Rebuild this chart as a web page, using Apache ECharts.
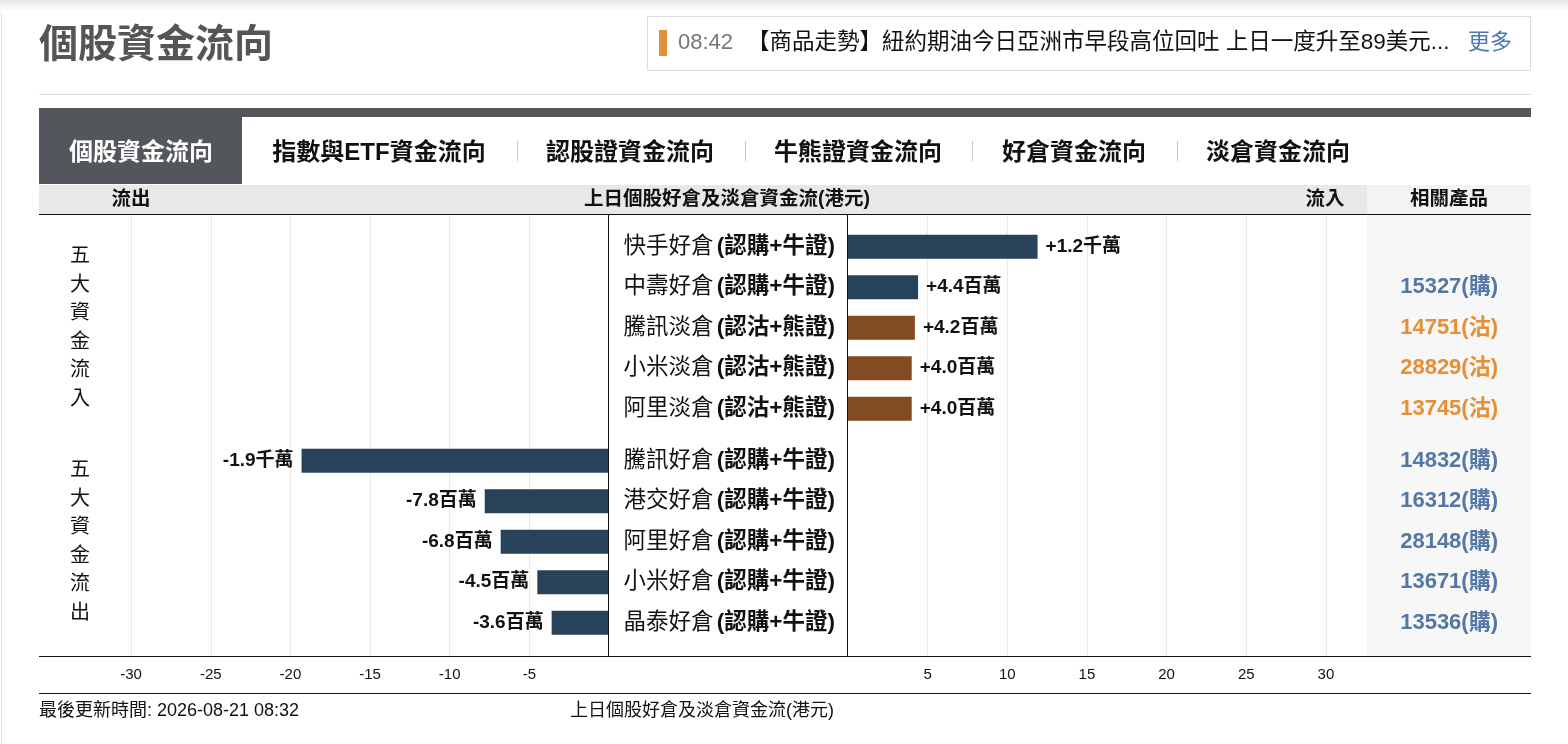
<!DOCTYPE html>
<html>
<head>
<meta charset="utf-8">
<script src="https://cdn.jsdelivr.net/npm/echarts@6/dist/echarts.min.js"></script>
<style>
html,body{margin:0;padding:0;background:#fff;}
#c{width:1568px;height:744px;}
</style>
</head>
<body>
<div id="c"></div>
<script>
// ---- data ----
var inflowNames = ['快手好倉 (認購+牛證)', '中壽好倉 (認購+牛證)', '騰訊淡倉 (認沽+熊證)', '小米淡倉 (認沽+熊證)', '阿里淡倉 (認沽+熊證)'];
var inflowValues = [11.9, 4.4, 4.2, 4.0, 4.0];           // 百萬港元
var inflowCodes = ['', '15327(購)', '14751(沽)', '28829(沽)', '13745(沽)'];
var outflowNames = ['騰訊好倉 (認購+牛證)', '港交好倉 (認購+牛證)', '阿里好倉 (認購+牛證)', '小米好倉 (認購+牛證)', '晶泰好倉 (認購+牛證)'];
var outflowValues = [-19.3, -7.8, -6.8, -4.5, -3.6];     // 百萬港元
var outflowCodes = ['14832(購)', '16312(購)', '28148(購)', '13671(購)', '13536(購)'];
var tabs = ['個股資金流向', '指數與ETF資金流向', '認股證資金流向', '牛熊證資金流向', '好倉資金流向', '淡倉資金流向'];
var newsTime = '08:42';
var newsText = '【商品走勢】紐約期油今日亞洲市早段高位回吐 上日一度升至89美元...';
var updateText = '最後更新時間: 2026-08-21 08:32';
var axisTitle = '上日個股好倉及淡倉資金流(港元)';

var FONT = "'Liberation Sans', Arial, 'Noto Sans CJK TC', sans-serif";
var NAVY = '#284259', BROWN = '#834b22', CODE_BLUE = '#5577a3', CODE_ORANGE = '#e58f36';

function fmtFlow(v) {
  var s = v >= 0 ? '+' : '-';
  var a = Math.abs(v);
  return a >= 10 ? s + (a / 10).toFixed(1) + '千萬' : s + a.toFixed(1) + '百萬';
}
function barColor(names) {
  return function (p) { return names[p.dataIndex].indexOf('淡倉') >= 0 ? BROWN : NAVY; };
}
var nameLabel = {
  formatter: function (v) {
    var i = v.indexOf(' (');
    return '{n|' + v.slice(0, i) + '} {b|' + v.slice(i + 1) + '}';
  },
  rich: {
    n: { fontSize: 22.5, color: '#111', fontFamily: FONT },
    b: { fontSize: 22.5, color: '#111', fontWeight: 'bold', fontFamily: FONT }
  }
};
var codeLabel = {
  formatter: function (v) {
    if (!v) return '';
    return v.indexOf('沽') >= 0 ? '{s|' + v + '}' : '{p|' + v + '}';
  },
  rich: {
    p: { fontSize: 22, color: CODE_BLUE, fontWeight: 'bold', fontFamily: FONT },
    s: { fontSize: 22, color: CODE_ORANGE, fontWeight: 'bold', fontFamily: FONT }
  }
};

// ---- layout (pixels) ----
var U = 15.93;               // px per 百萬
var ZL = 609, ZR = 848;      // zero lines
var LMIN = -35, RMAX = 32.6;
var PLOT_TOP = 215, PLOT_H = 441;
var TOP_G = 226.5, BOT_G = 440.5, G_H = 202.5;

var chart = echarts.init(document.getElementById('c'));

var hidden = { show: false };
function bgXAxis(gi, min, max) {
  return {
    gridIndex: gi, type: 'value', min: min, max: max, interval: 5,
    axisLine: hidden, axisTick: hidden,
    axisLabel: {
      show: true, margin: 11, fontSize: 15, color: '#111', fontFamily: FONT,
      showMinLabel: false, showMaxLabel: false,
      formatter: function (v) { return (v === 0 || v % 5 !== 0) ? '' : String(v); }
    },
    splitLine: { show: true, showMinLine: false, showMaxLine: false, lineStyle: { color: '#e9e9e9', width: 1 } }
  };
}

var tabCenters = [141, 379, 630, 858, 1074, 1278];
var sepX = [517, 745, 972, 1177];

var graphics = [];
// top shadow and left border
graphics.push({ type: 'rect', shape: { x: 0, y: 0, width: 1568, height: 12 }, style: { fill: new echarts.graphic.LinearGradient(0, 0, 0, 1, [{ offset: 0, color: '#e6e6e6' }, { offset: 1, color: '#ffffff' }]) }, z: 0 });
graphics.push({ type: 'line', shape: { x1: 1.5, y1: 12, x2: 1.5, y2: 744 }, style: { stroke: '#e3e3e3', lineWidth: 1 } });
// title
graphics.push({ type: 'text', x: 39, y: 46, style: { text: '個股資金流向', font: 'bold 39px ' + FONT, fill: '#555', verticalAlign: 'middle' } });
// news box
graphics.push({ type: 'rect', shape: { x: 647.5, y: 16.5, width: 883, height: 54 }, style: { fill: '#fff', stroke: '#dcdcdc', lineWidth: 1 } });
graphics.push({ type: 'rect', shape: { x: 659, y: 30, width: 8, height: 26 }, style: { fill: '#e0913a' } });
graphics.push({ type: 'text', x: 678, y: 43, style: { text: newsTime, font: '22px ' + FONT, fill: '#777', verticalAlign: 'middle' } });
graphics.push({ type: 'text', x: 747, y: 43, style: { text: newsText, font: '22.5px ' + FONT, fill: '#111', verticalAlign: 'middle' } });
graphics.push({ type: 'text', x: 1468, y: 43, style: { text: '更多', font: '22px ' + FONT, fill: '#4a78b5', verticalAlign: 'middle' } });
// separator line and dark band
graphics.push({ type: 'line', shape: { x1: 39, y1: 94.5, x2: 1531, y2: 94.5 }, style: { stroke: '#dedede', lineWidth: 1 } });
graphics.push({ type: 'rect', shape: { x: 39, y: 108, width: 1492, height: 9 }, style: { fill: '#53575c' } });
graphics.push({ type: 'rect', shape: { x: 39, y: 117, width: 203, height: 67 }, style: { fill: '#53575c' } });
tabs.forEach(function (t, i) {
  graphics.push({ type: 'text', x: tabCenters[i], y: 153, style: { text: t, font: 'bold 24px ' + FONT, fill: i === 0 ? '#fff' : '#111', align: 'center', verticalAlign: 'middle' } });
});
sepX.forEach(function (x) {
  graphics.push({ type: 'line', shape: { x1: x + 0.5, y1: 141, x2: x + 0.5, y2: 161 }, style: { stroke: '#c8c8c8', lineWidth: 1 } });
});
// header row
graphics.push({ type: 'rect', shape: { x: 39, y: 185, width: 1328, height: 29 }, style: { fill: '#e8e8e8' } });
graphics.push({ type: 'rect', shape: { x: 1367, y: 185, width: 164, height: 29 }, style: { fill: '#f3f3f3' } });
graphics.push({ type: 'rect', shape: { x: 1367, y: 215, width: 164, height: 441 }, style: { fill: '#f7f7f7' }, z: -1 });
graphics.push({ type: 'text', x: 131, y: 200, style: { text: '流出', font: 'bold 19.5px ' + FONT, fill: '#111', align: 'center', verticalAlign: 'middle' } });
graphics.push({ type: 'text', x: 727, y: 200, style: { text: axisTitle, font: 'bold 19.5px ' + FONT, fill: '#111', align: 'center', verticalAlign: 'middle' } });
graphics.push({ type: 'text', x: 1325, y: 200, style: { text: '流入', font: 'bold 19.5px ' + FONT, fill: '#111', align: 'center', verticalAlign: 'middle' } });
graphics.push({ type: 'text', x: 1449, y: 200, style: { text: '相關產品', font: 'bold 19.5px ' + FONT, fill: '#111', align: 'center', verticalAlign: 'middle' } });
// rules
graphics.push({ type: 'line', shape: { x1: 39, y1: 214.5, x2: 1531, y2: 214.5 }, style: { stroke: '#111', lineWidth: 1 }, z: 10 });
graphics.push({ type: 'line', shape: { x1: 39, y1: 656.5, x2: 1531, y2: 656.5 }, style: { stroke: '#111', lineWidth: 1 }, z: 10 });
graphics.push({ type: 'line', shape: { x1: 39, y1: 693.5, x2: 1531, y2: 693.5 }, style: { stroke: '#111', lineWidth: 1 }, z: 10 });
graphics.push({ type: 'line', shape: { x1: 608.5, y1: 214, x2: 608.5, y2: 656 }, style: { stroke: '#111', lineWidth: 1 }, z: 10 });
graphics.push({ type: 'line', shape: { x1: 847.5, y1: 214, x2: 847.5, y2: 656 }, style: { stroke: '#111', lineWidth: 1 }, z: 10 });
// vertical group labels
graphics.push({ type: 'text', x: 80, y: 328, style: { text: '五\n大\n資\n金\n流\n入', font: '20px ' + FONT, lineHeight: 28.5, fill: '#111', align: 'center', verticalAlign: 'middle' } });
graphics.push({ type: 'text', x: 80, y: 542, style: { text: '五\n大\n資\n金\n流\n出', font: '20px ' + FONT, lineHeight: 28.5, fill: '#111', align: 'center', verticalAlign: 'middle' } });
// footer
graphics.push({ type: 'text', x: 39, y: 711, style: { text: updateText, font: '18px ' + FONT, fill: '#111', verticalAlign: 'middle' } });
graphics.push({ type: 'text', x: 702, y: 711, style: { text: axisTitle, font: '18px ' + FONT, fill: '#111', align: 'center', verticalAlign: 'middle' } });

var option = {
  backgroundColor: '#ffffff',
  animation: false,
  textStyle: { fontFamily: FONT },
  graphic: { elements: graphics },
  grid: [
    { left: ZL + LMIN * U, top: PLOT_TOP, width: -LMIN * U, height: PLOT_H },  // 0 left background
    { left: ZR, top: PLOT_TOP, width: RMAX * U, height: PLOT_H },               // 1 right background
    { left: ZR, top: TOP_G, width: RMAX * U, height: G_H },                     // 2 inflow bars
    { left: ZL + LMIN * U, top: BOT_G, width: -LMIN * U, height: G_H },         // 3 outflow bars
    { left: ZR, top: BOT_G, width: RMAX * U, height: G_H }                      // 4 outflow labels
  ],
  xAxis: [
    bgXAxis(0, LMIN, 0),
    bgXAxis(1, 0, RMAX),
    { gridIndex: 2, type: 'value', min: 0, max: RMAX, show: false },
    { gridIndex: 3, type: 'value', min: LMIN, max: 0, show: false },
    { gridIndex: 4, type: 'value', min: 0, max: RMAX, show: false }
  ],
  yAxis: [
    { gridIndex: 0, type: 'category', data: ['a'], show: false },
    { gridIndex: 1, type: 'category', data: ['a'], show: false },
    { gridIndex: 2, type: 'category', data: inflowNames, inverse: true, position: 'left',
      axisLine: hidden, axisTick: hidden, splitLine: hidden,
      axisLabel: Object.assign({ margin: 13, align: 'right' }, nameLabel) },
    { gridIndex: 2, type: 'category', data: inflowCodes, inverse: true, position: 'right',
      axisLine: hidden, axisTick: hidden, splitLine: hidden,
      axisLabel: Object.assign({ margin: 1498 - (ZR + RMAX * U), align: 'right' }, codeLabel) },
    { gridIndex: 3, type: 'category', data: outflowNames, inverse: true, show: false },
    { gridIndex: 4, type: 'category', data: outflowNames, inverse: true, position: 'left',
      axisLine: hidden, axisTick: hidden, splitLine: hidden,
      axisLabel: Object.assign({ margin: 13, align: 'right' }, nameLabel) },
    { gridIndex: 4, type: 'category', data: outflowCodes, inverse: true, position: 'right',
      axisLine: hidden, axisTick: hidden, splitLine: hidden,
      axisLabel: Object.assign({ margin: 1498 - (ZR + RMAX * U), align: 'right' }, codeLabel) }
  ],
  series: [
    {
      type: 'bar', name: '流入', xAxisIndex: 2, yAxisIndex: 2, data: inflowValues, barWidth: 24,
      itemStyle: { color: barColor(inflowNames) },
      label: { show: true, position: 'right', distance: 8, fontSize: 19, fontWeight: 'bold', color: '#111', fontFamily: FONT,
        formatter: function (p) { return fmtFlow(p.value); } }
    },
    {
      type: 'bar', name: '流出', xAxisIndex: 3, yAxisIndex: 4, data: outflowValues, barWidth: 24,
      itemStyle: { color: barColor(outflowNames) },
      label: { show: true, position: 'left', distance: 8, fontSize: 19, fontWeight: 'bold', color: '#111', fontFamily: FONT,
        formatter: function (p) { return fmtFlow(p.value); } }
    }
  ]
};
chart.setOption(option);
</script>
</body>
</html>
